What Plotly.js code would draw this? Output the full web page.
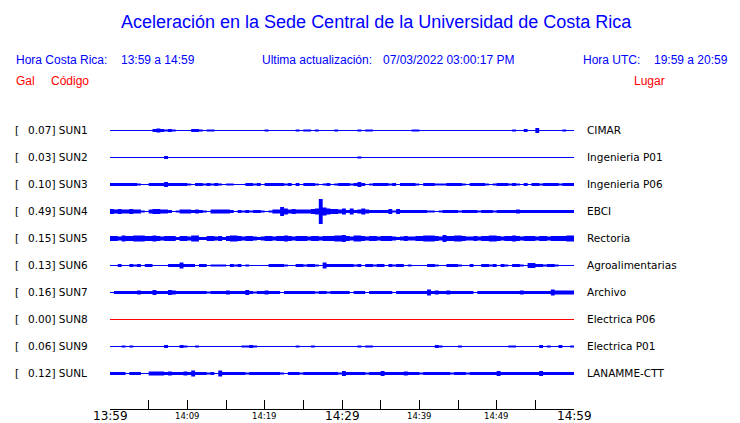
<!DOCTYPE html>
<html><head><meta charset="utf-8">
<script src="https://cdn.plot.ly/plotly-3.0.1.min.js"></script>
<style>html,body{margin:0;padding:0;background:#fff}</style>
</head><body><div id="chart" style="width:740px;height:423px"></div>
<script>
// ---- data ----
const stations = ["SUN1","SUN2","SUN3","SUN4","SUN5","SUN6","SUN7","SUN8","SUN9","SUNL"];
const places = ["CIMAR","Ingenieria P01","Ingenieria P06","EBCI","Rectoria","Agroalimentarias","Archivo","Electrica P06","Electrica P01","LANAMME-CTT"];
const peakGal = ["0.07","0.03","0.10","0.49","0.15","0.13","0.16","0.00","0.06","0.12"];
const binMinutes = 0.5;
// envelope amplitude per half-minute bin (display units)
const sun1 = [0,.5,.5,0,.5,0,0,0,0,.5, 0,1.5,2,1.5,1,1.5,1,.5,0,0,
  0,1.5,1.5,1,0,1,1,0,0,.5, 0,0,0,0,0,0,0,0,0,0,
  1,0,0,0,0,0,0,0,1,0, 1,1,0,1,0,0,0,0,1,0,
  0,0,0,0,1,0,1,1,0,0, .5,0,0,0,.5,0,0,0,1,1,
  0,0,0,0,0,0,0,0,.5,0, 0,0,0,0,0,0,0,0,0,0,
  0,0,0,0,1,0,0,1.5,0,0, 2.5,0,0,0,.5,0,0,1,0,0];
const sun2 = [0,0,0,0,0,0,0,0,0,0, 0,0,0,0,1.5,0,0,0,0,0,
  0,0,0,0,0,0,0,0,0,0, 0,0,0,0,0,0,0,0,0,0,
  0,0,0,0,0,0,0,0,0,0, 0,0,0,0,0,0,0,0,0,0,
  0,0,0,0,1,0,0,0,0,0, 0,0,0,0,0,0,0,0,0,0,
  0,0,0,0,0,0,0,0,0,0, 0,0,0,0,0,0,0,0,0,0,
  0,0,0,0,0,0,0,0,0,0, 0,0,0,0,0,0,0,0,0,0];
const sun3 = [1.5,1.5,1.5,1.5,1.5,1.5,1.5,1,.5,.5, 1.5,1.5,1.5,1.5,2.5,1.5,1.5,1.5,1.5,1.5,
  1,.5,1.5,1.5,1,1.5,1,1.5,1,.5, 1,1,.5,.5,0,1.5,1.5,1,1.5,.5,
  1.5,1.5,1.5,1.5,1.5,1,1.5,.5,1.5,.5, 1.5,1.5,1.5,1,.5,1,1.5,.5,1,1.5,
  1.5,1.5,1,1.5,2.5,1.5,.5,1,1.5,1.5, 1.5,1.5,1,1.5,.5,1.5,1.5,1.5,1.5,1,
  .5,1.5,1.5,1.5,1,1,1,1.5,1.5,1.5, 1.5,1,.5,1.5,1.5,1.5,1.5,1,.5,1,
  1.5,1.5,1.5,1,1.5,1,.5,1.5,.5,1.5, 1.5,1,1.5,1.5,1.5,1.5,1,1.5,1.5,1.5];
const sun4 = [2.5,2,2.5,2,2,2.5,2,2,1,.5, 2,2.5,2.5,2,2,1.5,.5,1,2,2,
  2,1.5,2,1.5,1,.5,2,2,2,2, 2,1.5,.5,1.5,1,1.5,1,1.5,1.5,1,
  .5,1,2,2,4.5,3,2,2.5,2,2, 2,2,2.5,3,12.5,4,3,2.5,2.5,2,
  3,1.5,3,1.5,2,3,2,1.5,1.5,1.5, 1.5,1.5,2.5,1,2.5,1.5,1.5,1.5,1.5,1.5,
  1.5,1.5,1,1,.5,1,1.5,1.5,1.5,1.5, 1,1.5,1.5,1.5,1.5,1,1.5,1.5,1.5,1,
  1.5,1.5,1.5,1.5,1.5,2,1.5,1.5,1.5,1.5, 1.5,1.5,1.5,1.5,1.5,1.5,1.5,1.5,1.5,1.5];
const sun5 = [2.5,2.5,2,3,2.5,2.5,3,3,3,2.5, 2.5,3,2.5,2,2.5,2.5,2.5,1.5,2.5,2.5,
  2,3,3,1.5,1.5,2.5,2.5,2,2.5,1.5, 2.5,3,3,2.5,2,2.5,2.5,2,1.5,2,
  2.5,2.5,2,2.5,2.5,3,2.5,2,2.5,2.5, 2.5,2,2.5,2.5,2,2.5,2.5,2.5,3,3,
  3.5,2.5,2,3,3,2.5,2,2.5,2.5,2, 2.5,2.5,2.5,2,1.5,2,2.5,2,2,2.5,
  2.5,3,3,3,2.5,2,3.5,2.5,2.5,3, 3,2.5,2,2,2.5,2,2.5,2.5,3,3,
  2.5,2,2.5,2.5,3,2.5,2,2.5,2.5,2.5, 2,2.5,2.5,2,2.5,2.5,2.5,2.5,3,3];
const sun6 = [0,0,1.5,.5,0,1.5,1,1.5,0,1.5, 1.5,.5,.5,.5,0,1.5,1.5,1.5,3,1.5,
  1.5,1.5,0,1.5,1.5,0,1,1,1,1, 0,1.5,1,1.5,0,1,0,0,.5,0,
  .5,1.5,1.5,1.5,1.5,1,.5,0,1.5,1.5, 1,1.5,1.5,1,0,3,1.5,1.5,1.5,1.5,
  1.5,1.5,1.5,1,1.5,0,1.5,1.5,1,1.5, 1.5,0,1.5,1,1.5,1.5,0,1,0,.5,
  0,.5,1.5,1.5,1,0,0,1.5,1.5,1.5, 1,0,0,1.5,0,0,1.5,1.5,1,1.5,
  0,1.5,1,0,1.5,1.5,1,0,2.5,2.5, 1.5,1.5,1,1.5,1.5,1,0,.5,.5,0];
const sun7 = [.5,1.5,1.5,1.5,1.5,1.5,1.5,2,1.5,1.5, 1.5,2.5,1.5,1.5,1.5,2.5,2,1.5,1.5,1.5,
  1.5,1.5,1.5,1.5,1.5,1,1.5,1.5,1.5,1.5, 2,1.5,1.5,1.5,1.5,2.5,1.5,1,1.5,1.5,
  2,1.5,1.5,1.5,.5,1.5,1.5,1.5,1.5,1.5, 1.5,1.5,1.5,1,1.5,1.5,1,1.5,1.5,1.5,
  1.5,1.5,.5,1.5,1.5,1.5,.5,1.5,1.5,1.5, 1.5,1.5,1.5,.5,1.5,1.5,1.5,1.5,1.5,1.5,
  1.5,1.5,3,1.5,2,1.5,1.5,2,1.5,1.5, 1.5,1.5,1.5,1.5,.5,1.5,1.5,1.5,1.5,1.5,
  1.5,1.5,1.5,1.5,1.5,1.5,2,1.5,1.5,1.5, 1.5,1.5,1.5,1.5,3,2,2,2,2,2];
const sun8 = [0,0,0,0,0,0,0,0,0,0, 0,0,0,0,0,0,0,0,0,0,
  0,0,0,0,0,0,0,0,0,0, 0,0,0,0,0,0,0,0,0,0,
  0,0,0,0,0,0,0,0,0,0, 0,0,0,0,0,0,0,0,0,0,
  0,0,0,0,0,0,0,0,0,0, 0,0,0,0,0,0,0,0,0,0,
  0,0,0,0,0,0,0,0,0,0, 0,0,0,0,0,0,0,0,0,0,
  0,0,0,0,0,0,0,0,0,0, 0,0,0,0,0,0,0,0,0,0];
const sun9 = [0,.5,0,1,0,1,0,0,0,0, .5,.5,0,0,1.5,0,0,0,1.5,1,
  .5,0,1,0,.5,0,0,0,.5,0, 0,.5,.5,0,1,1,1.5,1,0,0,
  0,0,0,0,0,0,0,0,1,0, 0,0,1,.5,.5,0,.5,0,0,0,
  0,0,0,0,1,0,1,1,0,.5, 0,0,0,0,0,0,.5,0,0,0,
  0,0,0,.5,1.5,1,0,0,0,0, 1,0,0,0,.5,0,0,0,.5,.5,
  0,0,0,1,1,.5,0,.5,0,0, 0,1.5,0,1,0,0,1.5,0,0,1];
const sunL = [1.5,1.5,1.5,1.5,.5,1.5,1.5,1.5,.5,.5, 2,2,2,2,1.5,2,1.5,1.5,1.5,2,
  1.5,3,1.5,1.5,1.5,1,1.5,.5,3,1.5, 1.5,1.5,1.5,1.5,1.5,1,1.5,1.5,1.5,1.5,
  1.5,1.5,1.5,1.5,1,.5,1.5,1.5,1.5,1, 1.5,1.5,1.5,1.5,1.5,1.5,1.5,1.5,1.5,1,
  2.5,1.5,1.5,1.5,1.5,1.5,1,1.5,1.5,1.5, 2.5,1.5,1.5,1.5,1.5,1.5,2,1.5,1.5,1.5,
  1,1.5,1.5,1.5,1.5,1.5,1.5,1.5,1,1.5, 1.5,1.5,1,1.5,1.5,1.5,1.5,1.5,1.5,1.5,
  2.5,1.5,1.5,1.5,1.5,1.5,1.5,1.5,1.5,1.5, 1.5,2.5,1.5,1.5,1.5,1.5,1.5,1.5,1.5,1.5];
const tickMinutes = [0,5,10,15,20,25,30,35,40,45,50,55,60];
const tickLabels = ["13:59","","14:09","","14:19","","14:29","","14:39","","14:49","","14:59"];

// ---- drawing ----
const series = [sun1,sun2,sun3,sun4,sun5,sun6,sun7,sun8,sun9,sunL];
const L = 110, R = 574, T = 115, B = 409;
const BLUE = '#0000ff', RED = '#ff0000';
const traces = [];
series.forEach((env, i) => {
  const c = B - (130.5 + 27 * i);
  const xs = env.map((_, k) => k * binMinutes).concat([env.length * binMinutes]);
  const last = env[env.length - 1];
  const lo = env.map(a => c - a).concat([c - last]);
  const hi = env.map(a => c + a).concat([c + last]);
  const col = stations[i] === 'SUN8' ? RED : BLUE;
  traces.push({x: xs, y: lo, mode: 'lines', line: {width: 0, shape: 'hv', color: col}, hoverinfo: 'skip', showlegend: false});
  traces.push({x: xs, y: hi, mode: 'lines', line: {width: 0, shape: 'hv', color: col}, fill: 'tonexty', fillcolor: col, hoverinfo: 'skip', showlegend: false});
  traces.push({x: [0, env.length * binMinutes], y: [c, c], mode: 'lines', line: {width: 1, color: col}, hoverinfo: 'skip', showlegend: false});
});

function ann(text, px, py, size, color, family, anchor) {
  return {text: text, xref: 'paper', yref: 'paper', x: (px - L) / (R - L), y: (B - py) / (B - T),
    xanchor: anchor || 'left', yanchor: 'middle', showarrow: false, borderpad: 0,
    font: {size: size, color: color, family: family}};
}
const SANS = 'Liberation Sans, Arial, sans-serif';
const DJ = 'DejaVu Sans, sans-serif';
const annotations = [
  ann('Aceleración en la Sede Central de la Universidad de Costa Rica', 376, 22, 18, BLUE, SANS, 'center'),
  ann('Hora Costa Rica:', 15, 60, 12, BLUE, SANS),
  ann('13:59 a 14:59', 120, 60, 12, BLUE, SANS),
  ann('Ultima actualización:', 261, 60, 12, BLUE, SANS),
  ann('07/03/2022 03:00:17 PM', 382, 60, 12, BLUE, SANS),
  ann('Hora UTC:', 582, 60, 12, BLUE, SANS),
  ann('19:59 a 20:59', 653, 60, 12, BLUE, SANS),
  ann('Gal', 15, 81, 12, RED, SANS),
  ann('Código', 50, 81, 12, RED, SANS),
  ann('Lugar', 633, 81, 12, RED, SANS)
];
stations.forEach((s, i) => {
  const py = 130 + 27 * i;
  annotations.push(ann('[', 14, py, 10.5, '#000', DJ));
  annotations.push(ann(peakGal[i] + '] ' + s, 27, py, 10.5, '#000', DJ));
  annotations.push(ann(places[i], 586, py, 10.5, '#000', DJ));
});
tickMinutes.forEach((m, i) => {
  if (!tickLabels[i]) return;
  const big = i % 6 === 0;
  annotations.push({text: tickLabels[i], xref: 'x', yref: 'paper', x: m, y: (B - (big ? 415.5 : 416)) / (B - T),
    xanchor: 'center', yanchor: 'middle', showarrow: false, borderpad: 0,
    font: {size: big ? 12 : 8.5, color: '#000', family: DJ}});
});

const layout = {
  width: 740, height: 423, autosize: false,
  margin: {l: L, r: 740 - R, t: T, b: 423 - B, pad: 0},
  paper_bgcolor: '#fff', plot_bgcolor: '#fff',
  showlegend: false,
  xaxis: {range: [0, 60], tickvals: tickMinutes, ticks: 'inside', ticklen: 9, tickwidth: 1, tickcolor: '#000',
    showticklabels: false, showline: true, linecolor: '#000', linewidth: 1, showgrid: false, zeroline: false, fixedrange: true},
  yaxis: {range: [0, B - T], visible: false, fixedrange: true},
  annotations: annotations
};
Plotly.newPlot('chart', traces, layout, {staticPlot: true, displayModeBar: false});
</script>
</body></html>
